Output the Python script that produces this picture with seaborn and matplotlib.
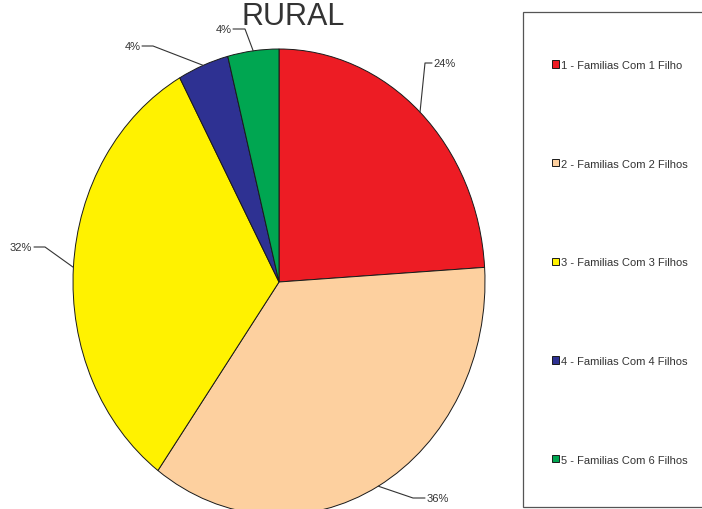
import numpy as np
import matplotlib
matplotlib.use("Agg")
import matplotlib.pyplot as plt
import seaborn as sns
from matplotlib.patches import Rectangle

sns.set_style("white")
plt.rcParams['font.family'] = ['Liberation Sans', 'DejaVu Sans']

categories = ["1 - Familias Com 1 Filho", "2 - Familias Com 2 Filhos",
              "3 - Familias Com 3 Filhos", "4 - Familias Com 4 Filhos",
              "5 - Familias Com 6 Filhos"]
values = [24, 36, 32, 4, 4]
pct_labels = ["24%", "36%", "32%", "4%", "4%"]
colors = sns.color_palette(["#ED1C24", "#FDD09F", "#FFF200", "#2E3192", "#00A651"])

W, H = 702, 510
fig = plt.figure(figsize=(W / 100, H / 100), dpi=100)
fig.patch.set_facecolor("white")

# pie axes in pixel extents (ellipse)
cx, cy, rx, ry = 279, 283, 206, 233
ax = fig.add_axes([(cx - rx) / W, (H - cy - ry) / H, 2 * rx / W, 2 * ry / H])
wedges, _ = ax.pie(values, colors=colors, startangle=90, counterclock=False,
                   wedgeprops=dict(edgecolor="#1a1a1a", linewidth=0.7))
ax.set_aspect("auto")
ax.set_xlim(-1, 1)
ax.set_ylim(-1, 1)
ax.axis("off")

def px2d(px, py):
    return (px - cx) / rx, (cy - py) / ry

# label elbow point and text point (pixels), alignment
label_geo = [
    ((425, 64), (432, 64), "left"),
    ((413, 499), (425, 499), "left"),
    ((45, 248), (34, 248), "right"),
    ((153, 47), (142, 47), "right"),
    ((245, 30), (233, 30), "right"),
]
for w, lab, (elb, tpt, ha) in zip(wedges, pct_labels, label_geo):
    mid = np.deg2rad((w.theta1 + w.theta2) / 2)
    ex, ey = np.cos(mid), np.sin(mid)
    bx, by = px2d(*elb)
    tx, ty = px2d(*tpt)
    ax.plot([ex, bx, tx], [ey, by, ty], color="#333333", lw=0.8, clip_on=False)
    off = 0.008 if ha == "left" else -0.008
    ax.text(tx + off, ty, lab, ha=ha, va="center", fontsize=8, color="#333333",
            clip_on=False)

fig.text(293.5 / W, 1 - 25 / H, "RURAL", ha="center", va="baseline", fontsize=22,
         color="#333333")

# legend frame
fig.patches.append(Rectangle((523 / W, 1 - 508 / H), (W + 5 - 523) / W, (508 - 13) / H,
                             transform=fig.transFigure, facecolor="white",
                             edgecolor="#555555", linewidth=0.9, zorder=0))
leg = fig.legend(wedges, categories, loc="upper left",
                 bbox_to_anchor=(543 / W, 1 - 52 / H), frameon=False,
                 fontsize=8, handlelength=0.62, handleheight=0.62,
                 handletextpad=0.18, labelspacing=7.98, labelcolor="#333333",
                 borderpad=0.3)

fig.savefig("out.png", dpi=100, facecolor="white")
